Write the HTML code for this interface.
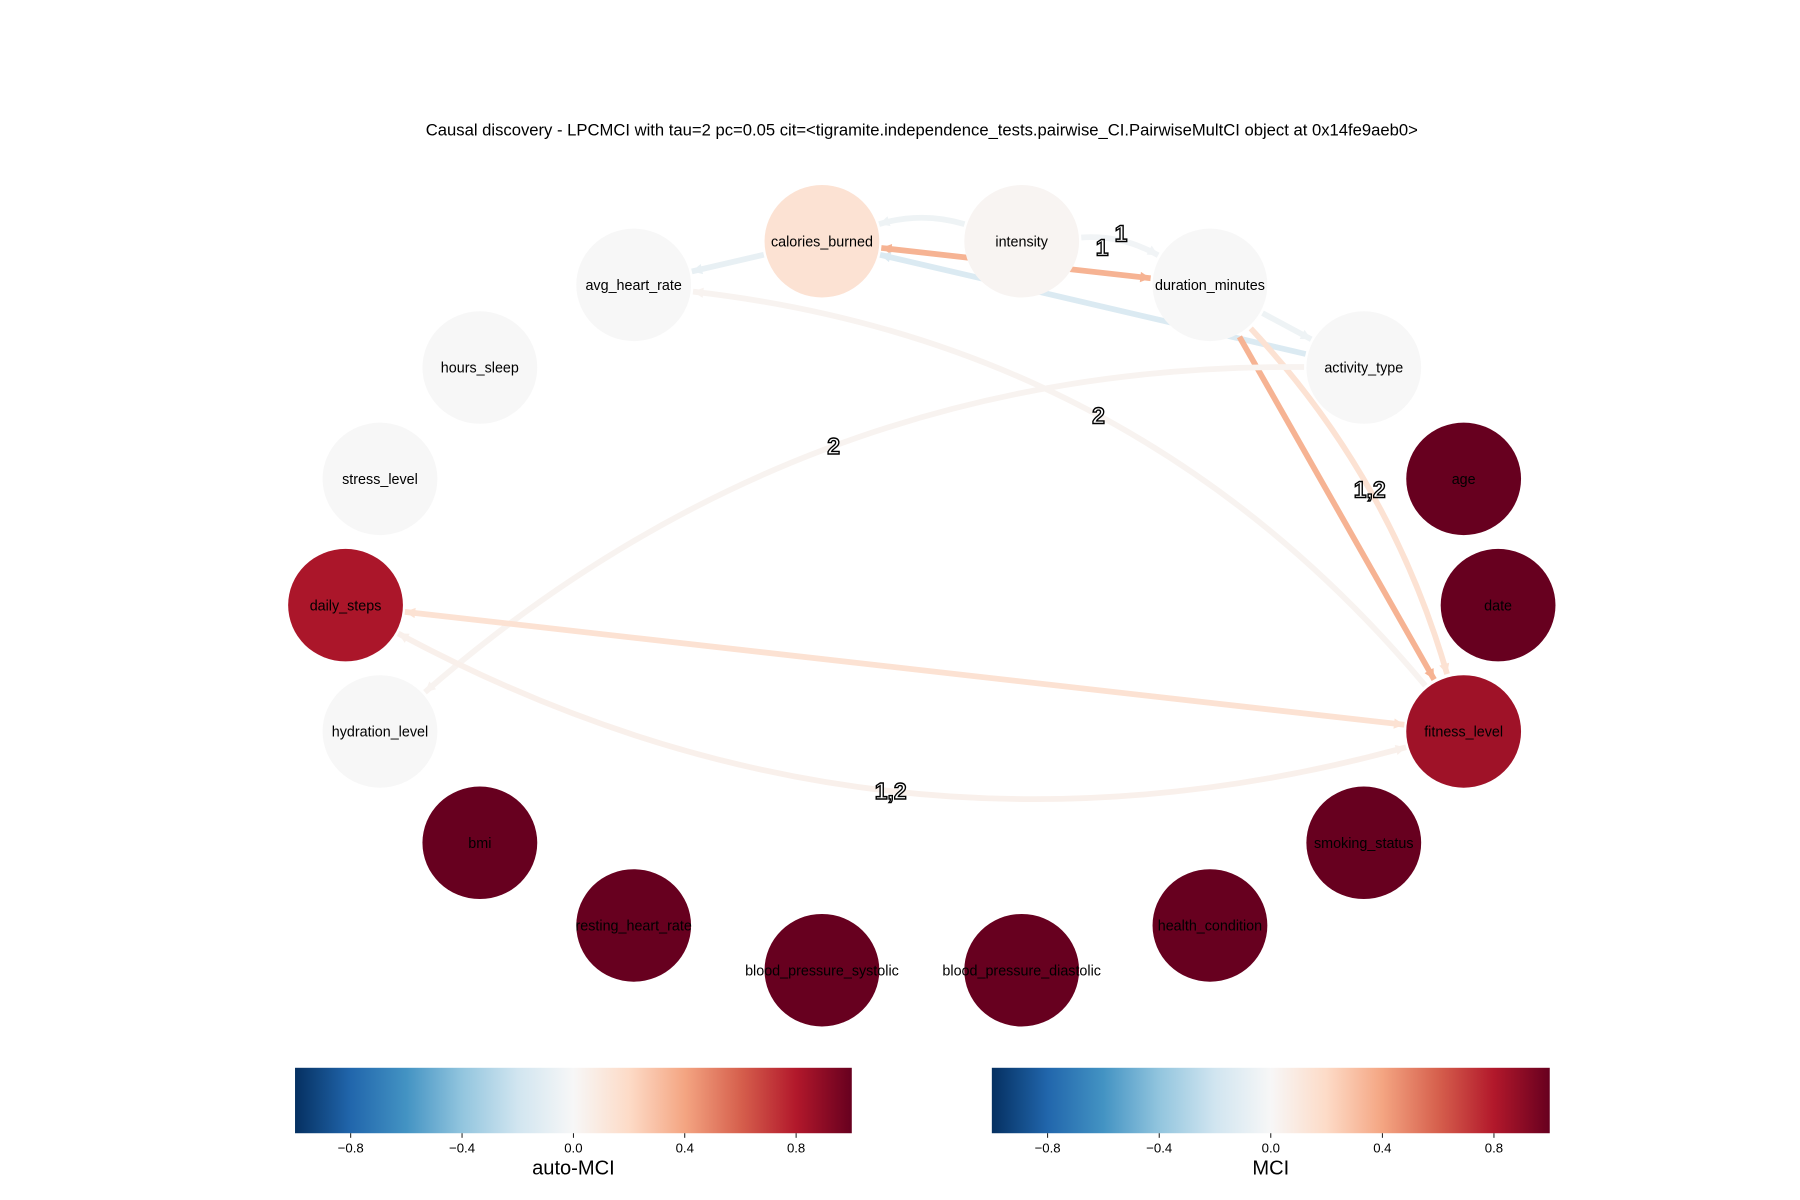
<!DOCTYPE html>
<html><head><meta charset="utf-8"><style>
html,body{margin:0;padding:0;background:#fff;}
svg{display:block;font-family:"Liberation Sans","DejaVu Sans",sans-serif;}
</style></head><body>
<svg id="chart" width="1800" height="1200" viewBox="0 0 1568 1045" xmlns="http://www.w3.org/2000/svg">
<defs>
<linearGradient id="rdbu" x1="0" x2="1" y1="0" y2="0">
<stop offset="0" stop-color="#053061"/><stop offset="0.1" stop-color="#2166ac"/><stop offset="0.2" stop-color="#4393c3"/><stop offset="0.3" stop-color="#92c5de"/><stop offset="0.4" stop-color="#d1e5f0"/><stop offset="0.5" stop-color="#f7f7f7"/><stop offset="0.6" stop-color="#fddbc7"/><stop offset="0.7" stop-color="#f4a582"/><stop offset="0.8" stop-color="#d6604d"/><stop offset="0.9" stop-color="#b2182b"/><stop offset="1" stop-color="#67001f"/>
</linearGradient>
</defs>
<text x="803" y="118" font-size="14.5" text-anchor="middle">Causal discovery - LPCMCI with tau=2 pc=0.05 cit=&lt;tigramite.independence_tests.pairwise_CI.PairwiseMultCI object at 0x14fe9aeb0&gt;</text>
<g id="edges"></g>
<g id="nodes"></g>
<g id="edge-labels"></g>
<g id="colorbars"></g>
</svg>
<script>
const nodeNames = ["calories_burned","intensity","duration_minutes","activity_type","age","date","fitness_level","smoking_status","health_condition","blood_pressure_diastolic","blood_pressure_systolic","resting_heart_rate","bmi","hydration_level","daily_steps","stress_level","hours_sleep","avg_heart_rate"];
const nodeValues = [0.15,0.02,0.0,0.0,1.0,1.0,0.85,1.0,1.0,1.0,1.0,1.0,1.0,0.0,0.82,0.0,0.0,0.0];
const nodeX = [716,890,1054,1188,1275,1305,1275,1188,1054,890,716,552,418,331,301,331,418,552];
const nodeY = [210,210,248,320,417,527,637,734,806,845,845,806,734,637,527,417,320,248];
const edgeFrom = ["calories_burned","intensity","intensity","calories_burned","activity_type","duration_minutes","duration_minutes","duration_minutes","fitness_level","activity_type","daily_steps","daily_steps"];
const edgeTo = ["duration_minutes","calories_burned","duration_minutes","avg_heart_rate","calories_burned","activity_type","fitness_level","fitness_level","avg_heart_rate","hydration_level","fitness_level","fitness_level"];
const edgeValues = [0.35,-0.05,-0.03,-0.08,-0.15,-0.05,0.35,0.15,0.03,0.03,0.15,0.05];
const edgeCurve = [0,0.15,-0.15,0,0,0,0,-0.12,0.2,0.19,0,0.2];
const edgeLabels = ["1","","1","","","","","1,2","2","2","","1,2"];
const edgeLabelT = [0.82,0.5,0.5,0.5,0.5,0.5,0.5,0.5,0.5,0.5,0.5,0.5];
const edgeLabelDy = [-22,0,-6,0,0,0,0,0,0,0,0,0];
const edgeBoth = [true,false,false,false,false,false,false,false,false,false,true,true];
const tickValues = [-0.8,-0.4,0.0,0.4,0.8];
const tickLabels = ["\u22120.8","\u22120.4","0.0","0.4","0.8"];

const stops=[[-1,"#053061"],[-0.8,"#2166ac"],[-0.6,"#4393c3"],[-0.4,"#92c5de"],[-0.2,"#d1e5f0"],[0,"#f7f7f7"],[0.2,"#fddbc7"],[0.4,"#f4a582"],[0.6,"#d6604d"],[0.8,"#b2182b"],[1,"#67001f"]];
function hx(c){return [1,3,5].map(i=>parseInt(c.substr(i,2),16));}
function cmap(v){v=Math.max(-1,Math.min(1,v));for(let i=0;i<stops.length-1;i++){const[a,ca]=stops[i],[b,cb]=stops[i+1];if(v<=b){const t=(v-a)/(b-a),A=hx(ca),B=hx(cb);return "rgb("+A.map((x,k)=>Math.round(x+(B[k]-x)*t)).join(",")+")";}}return "#67001f";}
const NS="http://www.w3.org/2000/svg";
function mk(t,a,p){const e=document.createElementNS(NS,t);for(const k in a)e.setAttribute(k,a[k]);p.appendChild(e);return e;}
const gE=document.getElementById("edges"),gN=document.getElementById("nodes"),gL=document.getElementById("edge-labels"),gC=document.getElementById("colorbars");
function pos(n){const i=nodeNames.indexOf(n);return [nodeX[i],nodeY[i]];}
function arrow(x,y,dx,dy,col){const L=Math.hypot(dx,dy);const ux=dx/L,uy=dy/L;const s=9;
 const p=[[x,y],[x-ux*s-uy*s*0.5,y-uy*s+ux*s*0.5],[x-ux*s+uy*s*0.5,y-uy*s-ux*s*0.5]];
 const a=mk("polygon",{points:p.map(q=>q.join(",")).join(" "),fill:col},gE);
 
 }
edgeFrom.forEach((f,i)=>{
 const [x1,y1]=pos(f),[x2,y2]=pos(edgeTo[i]);
 const dx=x2-x1,dy=y2-y1;
 const cx=(x1+x2)/2-dy*edgeCurve[i],cy=(y1+y2)/2+dx*edgeCurve[i];
 function tr(px,py,qx,qy){const d=Math.hypot(qx-px,qy-py);return [px+(qx-px)*52/d,py+(qy-py)*52/d];}
 const [sx,sy]=tr(x1,y1,cx,cy),[ex,ey]=tr(x2,y2,cx,cy);
 const col=cmap(edgeValues[i]);
 const p=mk("path",{d:`M${sx},${sy} Q${cx},${cy} ${ex},${ey}`,fill:"none",stroke:col,"stroke-width":5},gE);
 
 
 arrow(ex,ey,ex-cx,ey-cy,col);
 if(edgeBoth[i])arrow(sx,sy,sx-cx,sy-cy,col);
 if(edgeLabels[i]){const t0=edgeLabelT[i],u=1-t0;
  const lx=u*u*sx+2*u*t0*cx+t0*t0*ex,ly=u*u*sy+2*u*t0*cy+t0*t0*ey+edgeLabelDy[i];
  const t=mk("text",{x:lx,y:ly+7,"font-size":20,"font-weight":"bold","text-anchor":"middle",fill:"#fff",stroke:"#000","stroke-width":1.2},gL);
  t.textContent=edgeLabels[i];
  
  }
});
nodeNames.forEach((n,i)=>{
 const c=mk("ellipse",{cx:nodeX[i],cy:nodeY[i],rx:50,ry:49,fill:cmap(nodeValues[i])},gN);
 
 
 const t=mk("text",{x:nodeX[i],y:nodeY[i]+4.5,"font-size":12.5,"text-anchor":"middle",fill:"#000"},gN);
 t.textContent=n;
 
 
});
function colorbar(x0,x1,label,name){
 const r=mk("rect",{x:x0,y:930,width:x1-x0,height:57,fill:"url(#rdbu)"},gC);
 
 
 const sc=v=>x0+(v+1)/2*(x1-x0);
 tickValues.forEach((v,k)=>{
  const l=mk("line",{x1:sc(v),x2:sc(v),y1:987,y2:991,stroke:"#000","stroke-width":0.8},gC);
  
  
  const t=mk("text",{x:sc(v),y:1004,"font-size":11.5,"text-anchor":"middle"},gC);
  t.textContent=tickLabels[k];
  
  
 });
 const t=mk("text",{x:(x0+x1)/2,y:1023,"font-size":17.5,"text-anchor":"middle"},gC);
 t.textContent=label;
 
 
}
colorbar(257,742,"auto-MCI","auto-mci-colorbar");
colorbar(864,1350,"MCI","mci-colorbar");
</script>
</body></html>
